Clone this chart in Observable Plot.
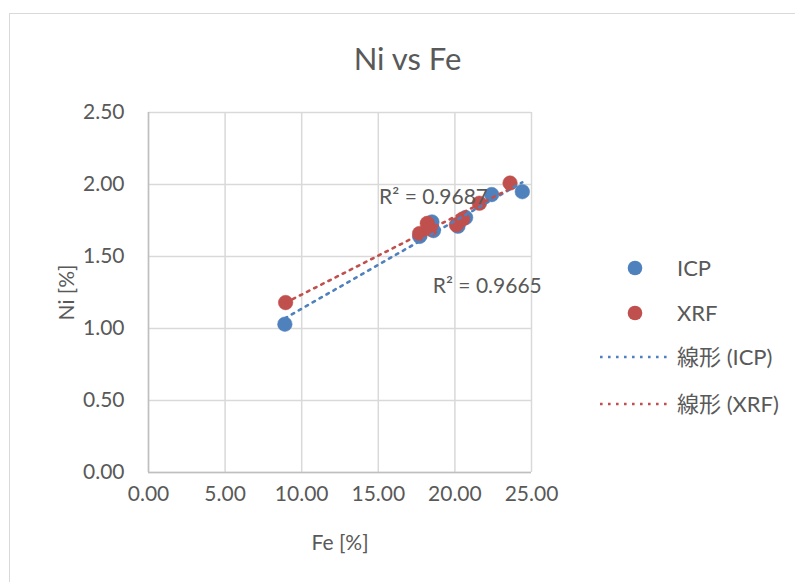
<!DOCTYPE html>
<html>
<head>
<meta charset="utf-8">
<script src="https://cdn.jsdelivr.net/npm/d3@7"></script>
<script src="https://cdn.jsdelivr.net/npm/@observablehq/plot@0.6"></script>
<style>
  html, body { margin: 0; padding: 0; background: #fff; overflow: hidden; }
  body { width: 795px; height: 582px; position: relative; font-family: Lato, "Noto Sans CJK JP", sans-serif; color: #595959; }
  #frame { position: absolute; left: 9px; top: 13px; width: 820px; height: 620px; border: 1.5px solid #d9d9d9; box-sizing: border-box; }
  #title { position: absolute; left: 0; top: 0; width: 795px; height: 90px; }
  #title span { position: absolute; left: 0; width: 815px; top: 38px; text-align: center; font-size: 31px; line-height: 40px; }
  #chart { position: absolute; left: 0; top: 90px; }
  .leg { position: absolute; font-size: 22px; line-height: 26px; }
  .leg svg { position: absolute; }
</style>
</head>
<body>
<div id="frame"></div>
<div id="title"><span>Ni vs Fe</span></div>
<div id="chart"></div>
<div id="legend"></div>
<script>
// ---- data ----
const seriesNames = ["ICP", "XRF"];
const feICP = [8.9, 17.7, 18.5, 18.6, 20.2, 20.7, 22.4, 24.4];
const niICP = [1.03, 1.64, 1.74, 1.68, 1.71, 1.77, 1.93, 1.95];
const feXRF = [8.95, 17.7, 18.2, 18.4, 20.1, 20.5, 21.6, 23.6];
const niXRF = [1.18, 1.66, 1.73, 1.69, 1.72, 1.76, 1.87, 2.01];
const rSquaredLabels = ["R² = 0.9665", "R² = 0.9687"];
const trendNames = ["線形 (ICP)", "線形 (XRF)"];
const xTicks = [0, 5, 10, 15, 20, 25];
const yTicks = [0, 0.5, 1.0, 1.5, 2.0, 2.5];
const colors = ["#4f81bd", "#c0504d"];

const icp = feICP.map((x, i) => ({x, y: niICP[i], s: "ICP"}));
const xrf = feXRF.map((x, i) => ({x, y: niXRF[i], s: "XRF"}));

function fit(xs, ys) {
  const mx = d3.mean(xs), my = d3.mean(ys);
  const b = d3.sum(xs, (x, i) => (x - mx) * (ys[i] - my)) / d3.sum(xs, x => (x - mx) ** 2);
  return {a: my - b * mx, b};
}
const fI = fit(feICP, niICP), fX = fit(feXRF, niXRF);
const endICP = {x: d3.max(feICP), y: fI.a + fI.b * d3.max(feICP), t: rSquaredLabels[0]};
const endXRF = {x: d3.max(feXRF), y: fX.a + fX.b * d3.max(feXRF), t: rSquaredLabels[1]};

const fmt = d3.format(".2f");
const dash = "2.6,5.4";
const FS = 21;

const chart = Plot.plot({
  width: 795,
  height: 492,
  marginLeft: 148,
  marginRight: 264,
  marginTop: 22,
  marginBottom: 110,
  style: {fontFamily: 'Lato, "Noto Sans CJK JP", sans-serif', fontSize: FS + "px", color: "#595959", background: "transparent"},
  x: {domain: [0, 25]},
  y: {domain: [0, 2.5]},
  marks: [
    Plot.gridX(xTicks, {stroke: "#d9d9d9", strokeOpacity: 1, strokeWidth: 1.5}),
    Plot.gridY(yTicks, {stroke: "#d9d9d9", strokeOpacity: 1, strokeWidth: 1.5}),
    Plot.ruleX([0], {stroke: "#bfbfbf", strokeWidth: 1.5}),
    Plot.ruleY([0], {stroke: "#bfbfbf", strokeWidth: 1.5}),
    Plot.axisX(xTicks, {tickSize: 0, tickPadding: 14, tickFormat: fmt, fontSize: FS, label: null}),
    Plot.axisY(yTicks, {tickSize: 0, tickPadding: 24, tickFormat: fmt, fontSize: FS, label: null}),
    Plot.text(["Fe [%]"], {frameAnchor: "bottom", dy: 77, fontSize: FS, fill: "#595959"}),
    Plot.text(["Ni [%]"], {frameAnchor: "left", dx: -81, textAnchor: "middle", rotate: -90, fontSize: FS, fill: "#595959"}),
    Plot.dot(icp, {x: "x", y: "y", r: 7.3, fill: colors[0], stroke: colors[0], strokeWidth: 0.5}),
    Plot.dot(xrf, {x: "x", y: "y", r: 7.3, fill: colors[1], stroke: colors[1], strokeWidth: 0.5}),
    Plot.linearRegressionY(icp, {x: "x", y: "y", stroke: colors[0], strokeWidth: 2.6, strokeDasharray: dash, ci: 0}),
    Plot.linearRegressionY(xrf, {x: "x", y: "y", stroke: colors[1], strokeWidth: 2.6, strokeDasharray: dash, ci: 0}),
    Plot.text([endXRF], {x: "x", y: "y", text: "t", textAnchor: "end", dx: -22, dy: 9, fontSize: FS, fill: "#595959"}),
    Plot.text([endICP], {x: "x", y: "y", text: "t", textAnchor: "middle", dx: -35, dy: 104, fontSize: FS, fill: "#595959"})
  ]
});
document.getElementById("chart").appendChild(chart);

// ---- legend ----
const leg = document.getElementById("legend");
const items = [
  {type: "dot", color: colors[0], label: seriesNames[0], top: 268},
  {type: "dot", color: colors[1], label: seriesNames[1], top: 313},
  {type: "line", color: colors[0], label: trendNames[0], top: 357},
  {type: "line", color: colors[1], label: trendNames[1], top: 404}
];
items.forEach(it => {
  const d = document.createElement("div");
  d.className = "leg";
  d.style.left = "598px";
  d.style.top = (it.top - 13) + "px";
  d.style.width = "195px";
  d.style.height = "26px";
  const sym = it.type === "dot"
    ? `<svg width="20" height="20" style="left:27px;top:3px"><circle cx="10" cy="10" r="7.3" fill="${it.color}"/></svg>`
    : `<svg width="72" height="6" style="left:0;top:10px"><line x1="2" x2="71" y1="3" y2="3" stroke="${it.color}" stroke-width="2.6" stroke-dasharray="${dash}"/></svg>`;
  d.innerHTML = sym + `<span style="position:absolute;left:79px;top:0;white-space:nowrap">${it.label}</span>`;
  leg.appendChild(d);
});
</script>
</body>
</html>
